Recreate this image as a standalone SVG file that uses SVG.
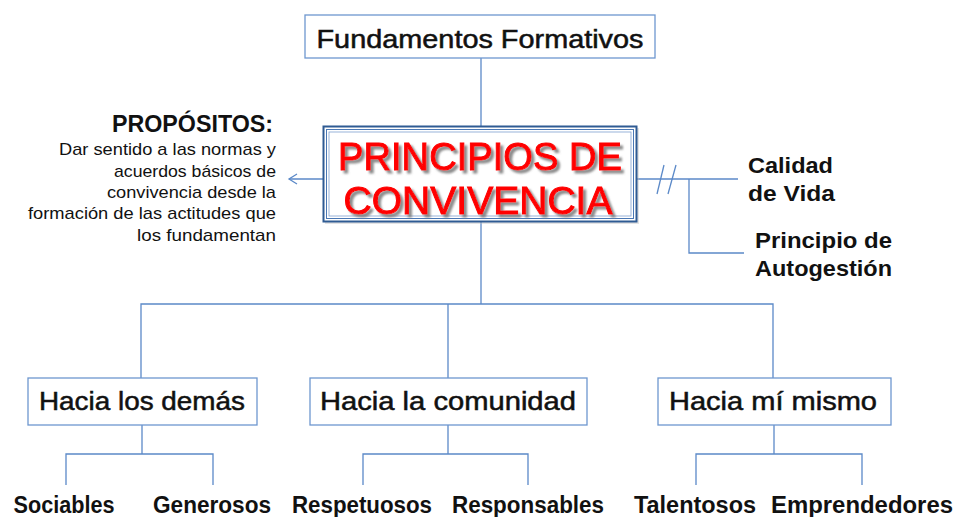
<svg xmlns="http://www.w3.org/2000/svg" width="956" height="517" viewBox="0 0 956 517">
<defs>
<filter id="sh" x="-10%" y="-20%" width="130%" height="150%">
<feDropShadow dx="3" dy="3" stdDeviation="0.8" flood-color="#777" flood-opacity="0.85"/>
</filter>
</defs>
<style>
.ln{fill:none;stroke:#5B89C8;stroke-width:1.3}
.bx{fill:#fff;stroke:#6E97CF;stroke-width:1.3}
.t{font-family:"Liberation Sans",Arial,sans-serif;fill:#111}
.lab{font-size:25px;text-anchor:middle;stroke:#111;stroke-width:0.5}
.leaf{font-size:23px;text-anchor:middle;font-weight:bold}
.side{font-size:22px;font-weight:bold}
.small{font-size:17px;text-anchor:end}
.red{font-family:"Liberation Sans",Arial,sans-serif;font-size:39px;text-anchor:middle;fill:#FF0000;stroke:#FF0000;stroke-width:1;filter:url(#sh)}
</style>
<rect width="956" height="517" fill="#fff"/>
<g id="connectors">
<line class="ln" x1="481" y1="58" x2="481" y2="126"/>
<line class="ln" x1="481" y1="222" x2="481" y2="304"/>
<polyline class="ln" points="141,378 141,304 773,304 773,378"/>
<line class="ln" x1="448" y1="304" x2="448" y2="378"/>
<line class="ln" x1="323" y1="179" x2="289" y2="179"/>
<polyline class="ln" points="297,174 289,179 297,184"/>
<line class="ln" x1="637" y1="179" x2="738" y2="179"/>
<polyline class="ln" points="689,179 689,253 744,253"/>
<line class="ln" x1="657" y1="194" x2="664" y2="165"/>
<line class="ln" x1="668" y1="194" x2="676" y2="165"/>
<polyline class="ln" points="142,425 142,454"/>
<polyline class="ln" points="66,485 66,454 213,454 213,485"/>
<polyline class="ln" points="448,425 448,454"/>
<polyline class="ln" points="363,485 363,454 528,454 528,485"/>
<polyline class="ln" points="774,425 774,454"/>
<polyline class="ln" points="696,485 696,454 862,454 862,485"/>
</g>
<g id="fundamentos">
<rect class="bx" x="305" y="15" width="350" height="43"/>
<text class="t lab" x="480" y="48" font-size="27" textLength="327" lengthAdjust="spacingAndGlyphs">Fundamentos Formativos</text>
</g>
<g id="principios">
<rect x="325" y="128" width="314" height="96" fill="#bbb" opacity="0.4"/>
<rect x="323.5" y="126.5" width="313" height="95" fill="#fff" stroke="#2F5B93" stroke-width="2"/>
<rect x="326.5" y="129.5" width="307" height="89" fill="none" stroke="#4A77B4" stroke-width="1"/>
<rect x="329" y="132" width="302" height="84" fill="none" stroke="#7FA0CF" stroke-width="0.8"/>
<text class="red" x="480" y="170" textLength="284" lengthAdjust="spacingAndGlyphs">PRINCIPIOS DE</text>
<text class="red" x="478" y="214" textLength="269" lengthAdjust="spacingAndGlyphs">CONVIVENCIA</text>
</g>
<g id="propositos">
<text class="t" x="273" y="132" font-size="24" font-weight="bold" text-anchor="end" textLength="161" lengthAdjust="spacingAndGlyphs">PROPÓSITOS:</text>
<text class="t small" x="276" y="155" textLength="217" lengthAdjust="spacingAndGlyphs">Dar sentido a las normas y</text>
<text class="t small" x="276" y="176.5" textLength="162" lengthAdjust="spacingAndGlyphs">acuerdos básicos de</text>
<text class="t small" x="276" y="198" textLength="169" lengthAdjust="spacingAndGlyphs">convivencia desde la</text>
<text class="t small" x="276" y="219" textLength="248" lengthAdjust="spacingAndGlyphs">formación de las actitudes que</text>
<text class="t small" x="276" y="240.5" textLength="139" lengthAdjust="spacingAndGlyphs">los fundamentan</text>
</g>
<g id="calidad">
<text class="t side" x="748" y="173" textLength="85" lengthAdjust="spacingAndGlyphs">Calidad</text>
<text class="t side" x="748" y="201" textLength="87" lengthAdjust="spacingAndGlyphs">de Vida</text>
</g>
<g id="autogestion">
<text class="t side" x="755" y="248" textLength="137" lengthAdjust="spacingAndGlyphs">Principio de</text>
<text class="t side" x="755" y="276" textLength="137" lengthAdjust="spacingAndGlyphs">Autogestión</text>
</g>
<g id="demas">
<rect class="bx" x="28" y="378" width="229" height="47"/>
<text class="t lab" x="142" y="410" textLength="206" lengthAdjust="spacingAndGlyphs">Hacia los demás</text>
</g>
<g id="comunidad">
<rect class="bx" x="310" y="378" width="277" height="47"/>
<text class="t lab" x="448" y="410" textLength="256" lengthAdjust="spacingAndGlyphs">Hacia la comunidad</text>
</g>
<g id="mismo">
<rect class="bx" x="658" y="378" width="233" height="47"/>
<text class="t lab" x="773" y="410" textLength="208" lengthAdjust="spacingAndGlyphs">Hacia mí mismo</text>
</g>
<g id="sociables"><text class="t leaf" x="64" y="513" textLength="101" lengthAdjust="spacingAndGlyphs">Sociables</text></g>
<g id="generosos"><text class="t leaf" x="212" y="513" textLength="118" lengthAdjust="spacingAndGlyphs">Generosos</text></g>
<g id="respetuosos"><text class="t leaf" x="362" y="513" textLength="140" lengthAdjust="spacingAndGlyphs">Respetuosos</text></g>
<g id="responsables"><text class="t leaf" x="528" y="513" textLength="152" lengthAdjust="spacingAndGlyphs">Responsables</text></g>
<g id="talentosos"><text class="t leaf" x="695" y="513" textLength="122" lengthAdjust="spacingAndGlyphs">Talentosos</text></g>
<g id="emprendedores"><text class="t leaf" x="862" y="513" textLength="182" lengthAdjust="spacingAndGlyphs">Emprendedores</text></g>
</svg>
